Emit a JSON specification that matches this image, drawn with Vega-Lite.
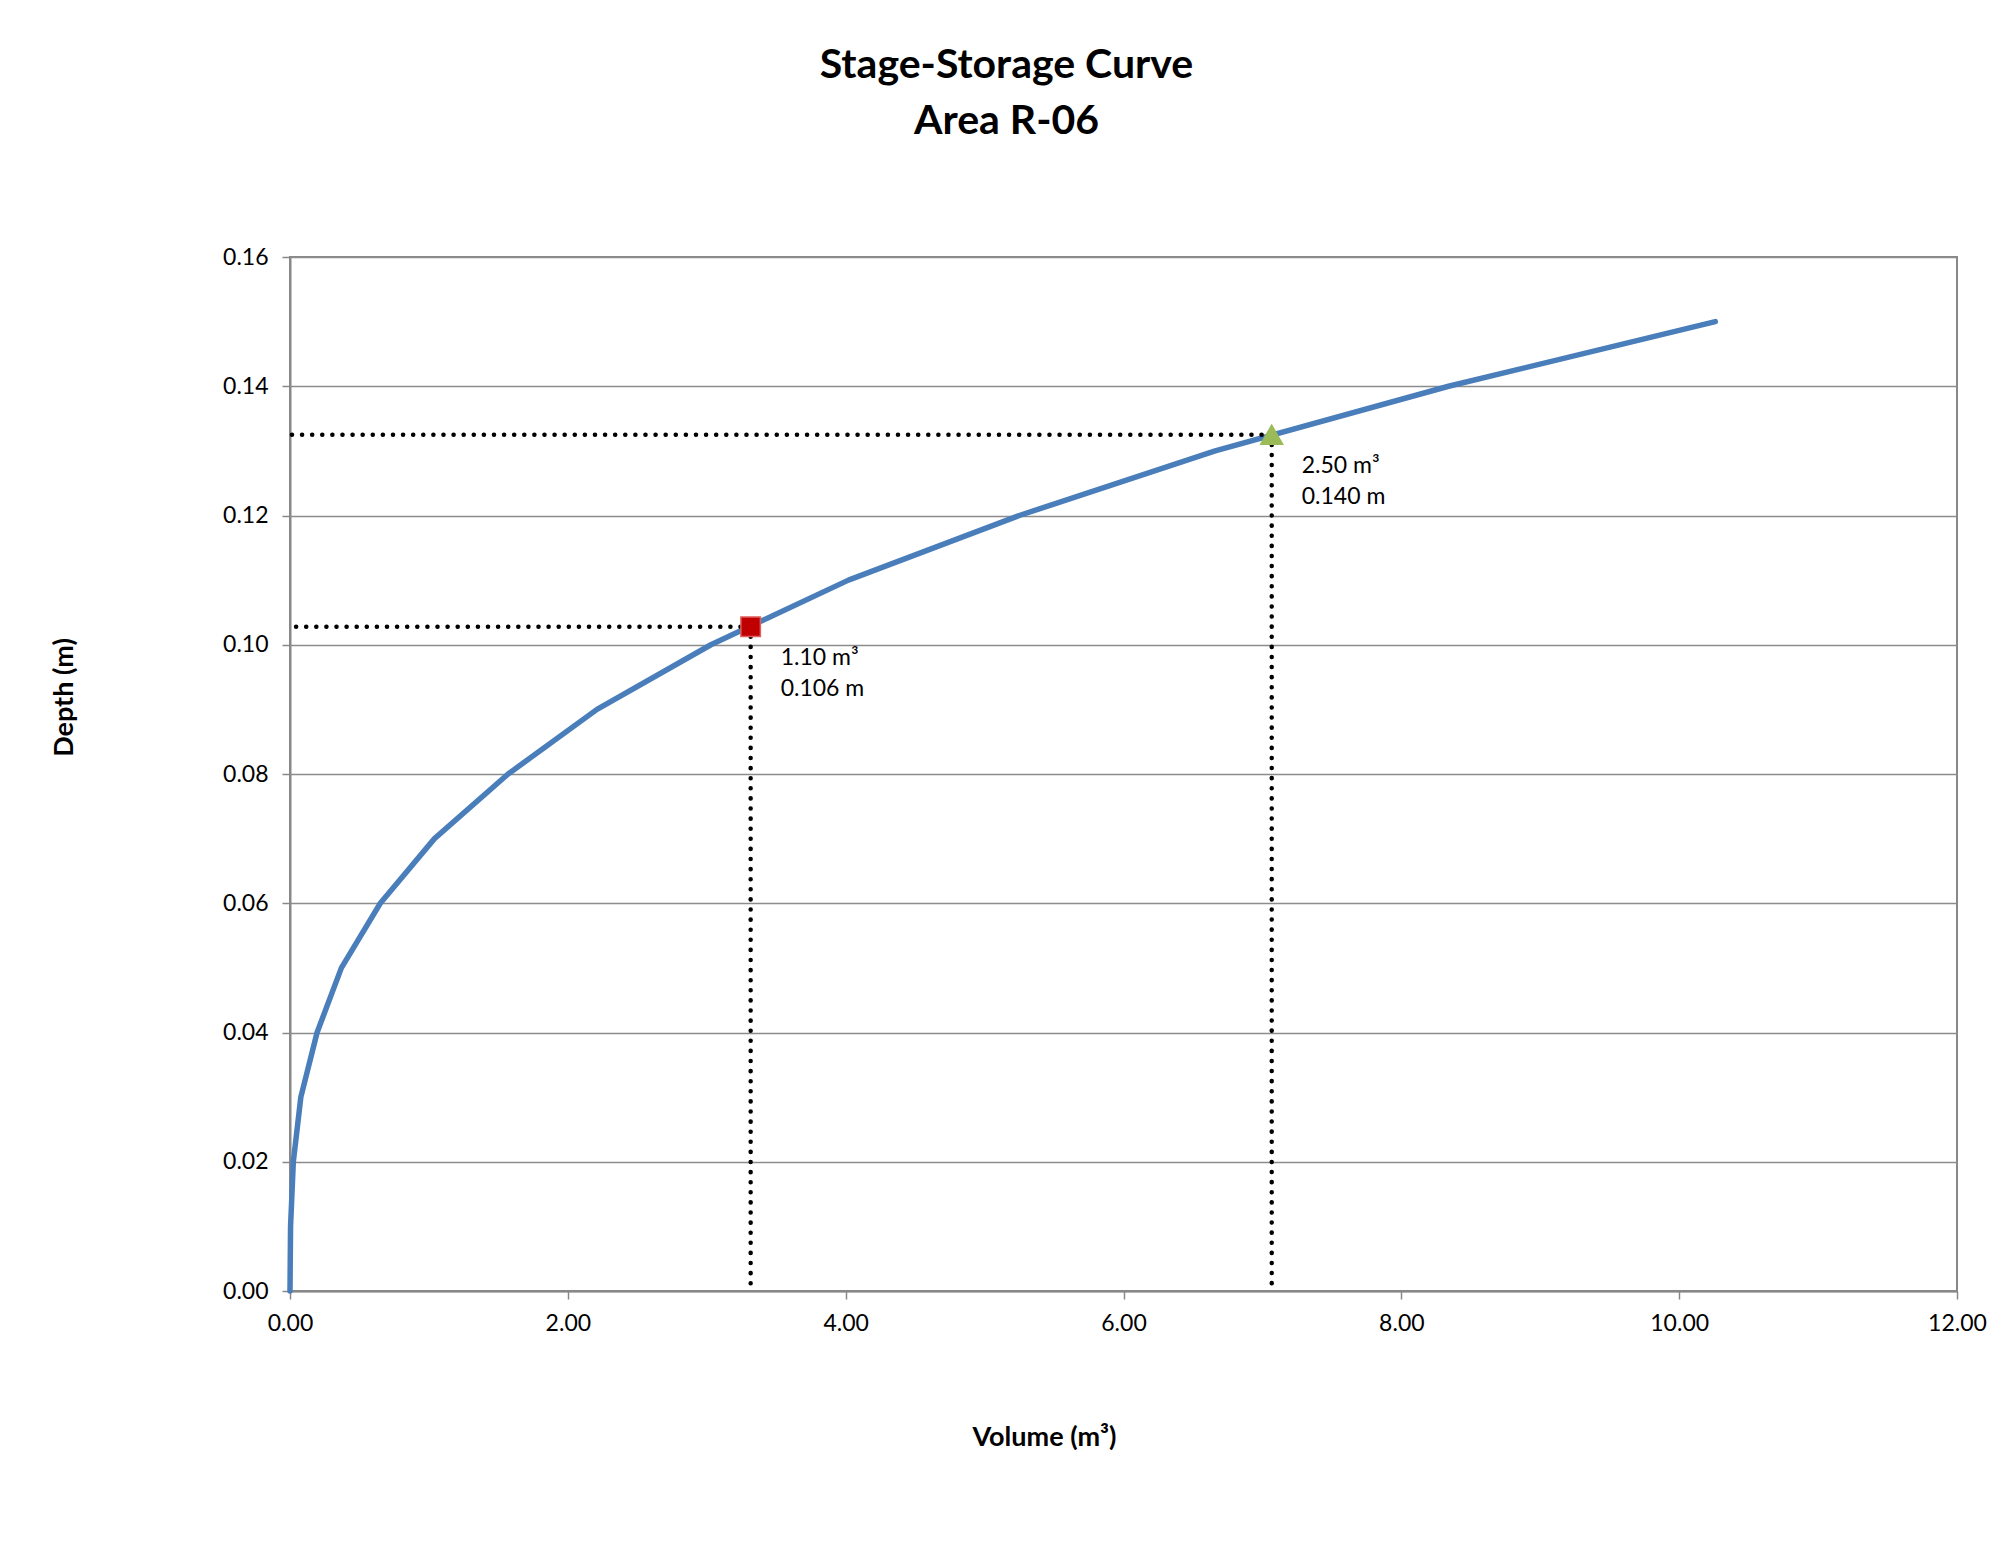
{
  "$schema": "https://vega.github.io/schema/vega-lite/v6.json",
  "width": 1667,
  "height": 1034,
  "autosize": {"type": "none"},
  "padding": {"left": 290, "top": 257, "right": 58, "bottom": 258},
  "background": "white",
  "title": {
    "text": ["Stage-Storage Curve", "Area R-06"],
    "font": "Lato",
    "fontSize": 41,
    "fontWeight": "bold",
    "color": "black",
    "lineHeight": 56,
    "anchor": "middle",
    "dx": -117,
    "offset": 103
  },
  "datasets": {
    "curve": [
      {"vol": 0.0, "depth": 0.0},
      {"vol": 0.004, "depth": 0.01},
      {"vol": 0.024, "depth": 0.02},
      {"vol": 0.078, "depth": 0.03},
      {"vol": 0.195, "depth": 0.04},
      {"vol": 0.37, "depth": 0.05},
      {"vol": 0.65, "depth": 0.06},
      {"vol": 1.04, "depth": 0.07},
      {"vol": 1.57, "depth": 0.08},
      {"vol": 2.21, "depth": 0.09},
      {"vol": 3.03, "depth": 0.10},
      {"vol": 4.02, "depth": 0.11},
      {"vol": 5.25, "depth": 0.12},
      {"vol": 6.66, "depth": 0.13},
      {"vol": 8.34, "depth": 0.14},
      {"vol": 10.26, "depth": 0.15}
    ],
    "markers": [
      {"name": "A", "vol": 3.316, "depth": 0.1028, "label": "1.10 m³\n0.106 m"},
      {"name": "B", "vol": 7.067, "depth": 0.1325, "label": "2.50 m³\n0.140 m"}
    ]
  },
  "layer": [
    {
      "data": {"name": "curve"},
      "mark": {"type": "line", "color": "#4A7EBB", "strokeWidth": 5.5, "strokeCap": "round", "strokeJoin": "round"},
      "encoding": {
        "x": {"field": "vol", "type": "quantitative", "scale": {"domain": [0, 12], "nice": false},
          "axis": {"values": [0, 2, 4, 6, 8, 10, 12], "format": ".2f", "title": "Volume (m³)", "grid": false,
            "titleX": 754, "titleY": 146, "titleAlign": "center", "titleBaseline": "middle"}},
        "y": {"field": "depth", "type": "quantitative", "scale": {"domain": [0, 0.16], "nice": false},
          "axis": {"values": [0, 0.02, 0.04, 0.06, 0.08, 0.1, 0.12, 0.14, 0.16], "format": ".2f", "title": "Depth (m)", "grid": true,
            "titleX": -226, "titleY": 440, "titleAlign": "center", "titleBaseline": "middle", "titleAngle": -90}}
      }
    },
    {
      "data": {"name": "markers"},
      "mark": {"type": "rule", "color": "black", "strokeWidth": 4.5, "strokeDash": [0.1, 10], "strokeCap": "round"},
      "encoding": {
        "x": {"field": "vol", "type": "quantitative"},
        "x2": {"datum": 0},
        "y": {"field": "depth", "type": "quantitative"}
      }
    },
    {
      "data": {"name": "markers"},
      "mark": {"type": "rule", "color": "black", "strokeWidth": 4.5, "strokeDash": [0.1, 10], "strokeCap": "round"},
      "encoding": {
        "x": {"field": "vol", "type": "quantitative"},
        "y": {"field": "depth", "type": "quantitative"},
        "y2": {"datum": 0}
      }
    },
    {
      "data": {"name": "markers"},
      "mark": {"type": "point", "filled": true, "opacity": 1, "strokeWidth": 1.5},
      "encoding": {
        "x": {"field": "vol", "type": "quantitative"},
        "y": {"field": "depth", "type": "quantitative"},
        "shape": {"field": "name", "type": "nominal", "scale": {"domain": ["A", "B"], "range": ["square", "triangle-up"]}, "legend": null},
        "size": {"field": "name", "type": "nominal", "scale": {"domain": ["A", "B"], "range": [380, 480]}, "legend": null},
        "fill": {"field": "name", "type": "nominal", "scale": {"domain": ["A", "B"], "range": ["#C00000", "#9BBB59"]}, "legend": null},
        "stroke": {"field": "name", "type": "nominal", "scale": {"domain": ["A", "B"], "range": ["#E06060", "#9BBB59"]}, "legend": null}
      }
    },
    {
      "data": {"name": "markers"},
      "mark": {"type": "text", "align": "left", "baseline": "top", "lineBreak": "\n", "lineHeight": 31, "dx": 30, "dy": 20, "font": "Lato", "fontSize": 23, "color": "black"},
      "encoding": {
        "x": {"field": "vol", "type": "quantitative"},
        "y": {"field": "depth", "type": "quantitative"},
        "text": {"field": "label"}
      }
    }
  ],
  "config": {
    "view": {"stroke": "#888888", "strokeWidth": 2},
    "axis": {
      "labelFont": "Lato",
      "labelFontSize": 23,
      "labelColor": "black",
      "labelFlush": false,
      "titleFont": "Lato",
      "titleFontSize": 27,
      "titleFontWeight": "bold",
      "titleColor": "black",
      "domainColor": "#888888",
      "domainWidth": 2,
      "tickColor": "#888888",
      "tickWidth": 1.5,
      "tickSize": 8,
      "gridColor": "#8c8c8c",
      "gridWidth": 1.5
    },
    "axisY": {"labelPadding": 14},
    "axisX": {"labelPadding": 13}
  }
}
